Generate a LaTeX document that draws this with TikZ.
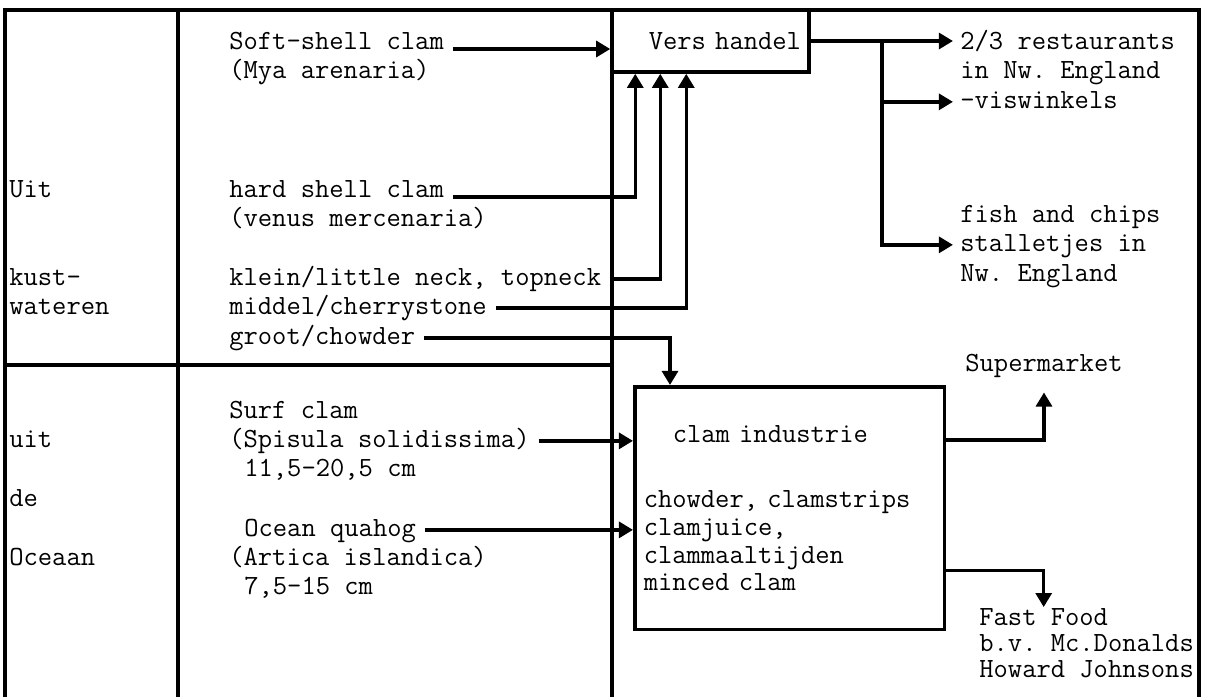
\documentclass[tikz,border=0pt]{standalone}
\usetikzlibrary{arrows.meta}

\protected\def\clamfont{\ttfamily\fontsize{15.8}{15.9}\selectfont\frenchspacing\spaceskip=\fontdimen2\font\relax}

\begin{document}
\begin{tikzpicture}[x=0.02cm,y=-0.02cm,
    txt/.style={font=\ttfamily\fontsize{15.8}{17}\selectfont\frenchspacing,anchor=base west,inner sep=0pt,text height=10pt,text depth=3pt},
    box/.style={draw,line width=2pt,font=\clamfont},
    flow/.style={-{Triangle[length=8pt,width=9pt]},line width=2pt},
    gap/.style={shorten <=5pt},
    frame/.style={line width=2pt}]
    \useasboundingbox (0,0) rectangle (1209,697);

    % Frame and columns
    \draw[frame] (5,697) -- (5,10) -- (1199,10) -- (1199,697);
    \draw[frame] (178,10) -- (178,697);
    \draw[frame] (612,10) -- (612,697);
    \draw[frame] (5,365) -- (612,365);

    % Origin
    \node[txt] (uit1) at (9,197) {Uit};
    \node[txt] (kust) at (9,285) {kust-};
    \node[txt] (wat) at (9,314) {wateren};
    \node[txt] (uit2) at (9,447) {uit};
    \node[txt] (de) at (9,506) {de};
    \node[txt] (oceaan) at (9,565) {Oceaan};

    % Species
    \node[txt] (soft) at (229,49) {Soft-shell clam};
    \node[txt] (mya) at (229,78) {(Mya arenaria)};
    \node[txt] (hard) at (229,197) {hard shell clam};
    \node[txt] (venus) at (229,226) {(venus mercenaria)};
    \node[txt] (klein) at (229,285) {klein/little neck, topneck};
    \node[txt] (middel) at (229,314) {middel/cherrystone};
    \node[txt] (groot) at (229,344) {groot/chowder};
    \node[txt] (surf) at (229,418) {Surf clam};
    \node[txt] (spis) at (229,447) {(Spisula solidissima)};
    \node[txt] (maat1) at (244,476) {11,5-20,5 cm};
    \node[txt] (ocean) at (244,536) {Ocean quahog};
    \node[txt] (artica) at (229,565) {(Artica islandica)};
    \node[txt] (maat2) at (244,594) {7,5-15 cm};

    % Processing
    \node[box,minimum width=3.94cm,minimum height=1.24cm,text width=3.62cm,inner xsep=0.16cm,align=right] (vers) at (710.5,41) {Vers handel};
    \node[box,anchor=north west,minimum width=6.2cm,minimum height=4.86cm,text width=5.84cm,inner xsep=0.18cm,align=left] (ind) at (633,385)
        {\hspace*{0.58cm}clam industrie\\[21pt]chowder, clamstrips\\clamjuice,\\clammaaltijden\\minced clam};

    % Markets
    \node[txt] (rest) at (960,49) {2/3 restaurants};
    \node[txt] (innw) at (960,78) {in Nw. England};
    \node[txt] (visw) at (960,108) {-viswinkels};
    \node[txt] (fish) at (960,222) {fish and chips};
    \node[txt] (stall) at (960,251) {stalletjes in};
    \node[txt] (nw) at (960,281) {Nw. England};
    \node[txt] (super) at (965,371) {Supermarket};
    \node[txt] (fast) at (979,625) {Fast Food};
    \node[txt] (bv) at (979,651) {b.v. Mc.Donalds};
    \node[txt] (howard) at (979,677) {Howard Johnsons};

    % Into fresh trade
    \draw[flow,gap] (soft.base east) -- (soft.base east -| vers.west);
    \draw[flow,gap] (hard.base east) -| ([xshift=0.5cm]vers.south west);
    \draw[flow,gap] (klein.east) -| ([xshift=1cm]vers.south west);
    \draw[flow,gap] (middel.east) -| ([xshift=1.52cm]vers.south west);

    % Into industry
    \draw[flow,gap] (groot.east) -| ([xshift=0.74cm]ind.north west);
    \draw[flow,gap] (spis.east) -- (spis.east -| ind.west);
    \draw[flow,gap] (ocean.east) -- (ocean.east -| ind.west);

    % Fresh trade outlets
    \coordinate (fork) at (882,41);
    \draw[flow,shorten >=4pt] (vers.east) -- (vers.east -| rest.west);
    \draw[flow,shorten >=4pt] (fork) |- (visw.west);
    \draw[flow,shorten >=4pt] (fork) |- (stall.west);

    % Industry outlets
    \draw[flow,shorten >=9pt] ([yshift=-1.1cm]ind.north east) -| (super.south);
    \draw[flow] ([yshift=1.22cm]ind.south east) -| (fast.north);
\end{tikzpicture}
\end{document}
